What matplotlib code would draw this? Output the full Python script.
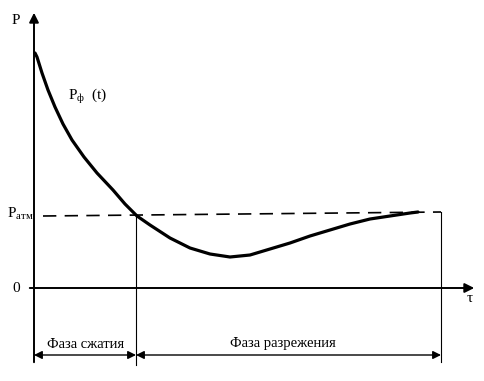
import matplotlib
matplotlib.use("Agg")
import matplotlib.pyplot as plt

plt.rcParams['font.family'] = ['Liberation Serif', 'DejaVu Serif']

# Pressure curve P_ф(t) (arbitrary units)
t_vals = [1, 3, 8, 14, 21, 29, 38, 50, 63, 79, 91, 103, 116, 136, 156, 176, 196, 216, 236, 256, 276, 296, 316, 336, 356, 376, 384]
p_vals = [235, 231, 215, 198, 181, 164, 148, 131, 115, 98, 84, 72, 63, 50, 40, 34, 31, 33, 39, 45, 52, 58, 64, 69, 72, 75, 76]
p_atm_start = 72
p_atm_end = 76
t_compress_end = 102
t_end = 407

fig = plt.figure(figsize=(4.84, 3.81), dpi=100)
ax = fig.add_axes([0, 0, 1, 1])
ax.set_xlim(-34, 450)
ax.set_ylim(-93, 288)
ax.axis('off')

# axes arrows
ax.annotate('', xy=(0, 278), xytext=(0, -77),
            arrowprops=dict(arrowstyle='-|>', lw=1.4, color='black', mutation_scale=14))
ax.annotate('', xy=(443, 0), xytext=(-7, 0),
            arrowprops=dict(arrowstyle='-|>', lw=1.4, color='black', mutation_scale=14))

# dashed atmospheric line
ax.plot([9, t_end], [p_atm_start, p_atm_end], color='black', lw=1.2, ls=(0, (8, 5)))

# vertical phase boundaries
ax.plot([t_compress_end, t_compress_end], [72, -77], color='black', lw=0.8)
ax.plot([t_end, t_end], [p_atm_end, -74], color='black', lw=0.8)

# pressure curve
ax.plot(t_vals, p_vals, color='black', lw=2.3, solid_capstyle='round', solid_joinstyle='round')

# phase arrows
ax.annotate('', xy=(0, -67), xytext=(t_compress_end, -67),
            arrowprops=dict(arrowstyle='<|-|>', lw=1.0, color='black', mutation_scale=12, shrinkA=0, shrinkB=0))
ax.annotate('', xy=(t_compress_end, -67), xytext=(t_end, -67),
            arrowprops=dict(arrowstyle='<|-|>', lw=1.0, color='black', mutation_scale=12, shrinkA=0, shrinkB=0))

ax.text(52, -57, 'Фаза сжатия', ha='center', va='center', fontsize=10.5)
ax.text(249, -55, 'Фаза разрежения', ha='center', va='center', fontsize=10.5)

# labels
ax.text(-18, 268, 'P', ha='center', va='center', fontsize=11)
ax.text(-18, 0, '0', ha='center', va='center', fontsize=11)
ax.text(-27, 74, r'P$_{\mathregular{атм}}$', ha='left', va='center', fontsize=11)
ax.text(34, 192, r'P$_{\mathregular{ф}}$  (t)', ha='left', va='center', fontsize=11)
ax.text(436, -11, 'τ', ha='center', va='center', fontsize=11)

fig.savefig('out.png', dpi=100)
